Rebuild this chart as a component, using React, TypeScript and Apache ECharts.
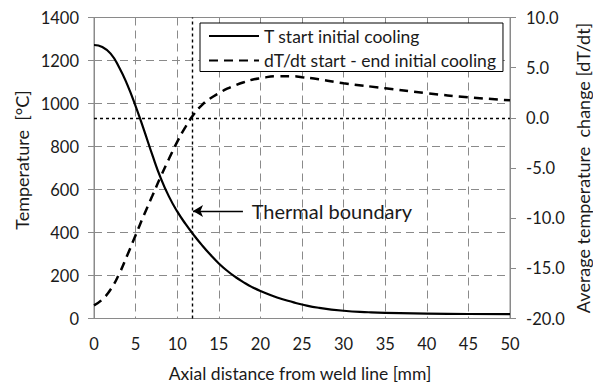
import React, { useEffect, useRef } from "react";
import * as echarts from "echarts";

// Solid curve: temperature at start of initial cooling
const tDistance = [0, 1, 2, 3, 4, 5, 6, 7, 8, 9, 10, 11, 12, 13, 14, 15, 16, 17, 18, 19, 20, 22, 24, 25, 27, 30, 33, 35, 40, 45, 50];
const temperature = [1272, 1263, 1232, 1170, 1088, 988, 877, 762, 655, 568, 498, 440, 388, 340, 296, 256, 222, 193, 168, 146, 128, 98, 75, 65, 50, 36, 29, 26, 23, 21, 20];

// Dashed curve: average temperature change dT/dt
const dDistance = [0, 1, 2, 3, 4, 5, 6, 7, 8, 9, 10, 11, 12, 13, 14, 15, 16, 17, 18, 19, 20, 22, 24, 25, 27, 30, 35, 40, 45, 50];
const dTdt = [-18.7, -18.1, -17.1, -15.6, -13.7, -11.7, -9.7, -7.8, -5.9, -4.1, -2.4, -0.9, 0.35, 1.3, 1.95, 2.45, 2.9, 3.25, 3.55, 3.8, 3.95, 4.15, 4.15, 4.05, 3.85, 3.45, 2.95, 2.45, 2.05, 1.75];

const seriesNames = ["T start initial cooling", "dT/dt start - end initial cooling"];
const thermalBoundary = 11.8;
const annotationText = "Thermal boundary";
const annotationLevel = 500;
const arrowStartX = 17.9;
const annotationTextX = 18.95;

const FONT = "Lato";
const TXT = "#1a1a1a";
const GRID = "#8a8a8a";

export default function App() {
  const ref = useRef<HTMLDivElement>(null);
  useEffect(() => {
    if (!ref.current) return;
    const chart = echarts.init(ref.current, null, { renderer: "svg" });
    chart.setOption({
      animation: false,
      backgroundColor: "#ffffff",
      textStyle: { fontFamily: FONT },
      grid: {
        left: 94,
        right: 83,
        top: 17.5,
        bottom: 64.5,
        show: true,
        borderColor: GRID,
        borderWidth: 1,
        containLabel: false,
        outerBoundsMode: "none",
      },
      legend: {
        orient: "vertical",
        left: 200,
        top: 23,
        padding: [4, 7, 2, 8],
        backgroundColor: "#ffffff",
        borderColor: "#000000",
        borderWidth: 1,
        itemWidth: 50,
        itemHeight: 10,
        itemGap: 6.5,
        itemStyle: { color: "rgba(0,0,0,0)", borderWidth: 0, opacity: 0 },
        textStyle: { fontFamily: FONT, fontSize: 17.5, color: TXT, lineHeight: 16 },
        data: seriesNames,
      },
      xAxis: {
        type: "value",
        min: 0,
        max: 50,
        interval: 5,
        axisLine: { show: true, lineStyle: { color: GRID, width: 1 } },
        axisTick: { show: false },
        axisLabel: { color: TXT, fontSize: 16.5, fontFamily: FONT, margin: 17 },
        splitLine: { show: true, lineStyle: { color: GRID, type: [8, 5], width: 1 } },
      },
      yAxis: [
        {
          type: "value",
          min: 0,
          max: 1400,
          interval: 200,
          axisLine: { show: true, lineStyle: { color: GRID, width: 1 } },
          axisTick: { show: true, inside: false, length: 6, lineStyle: { color: GRID } },
          axisLabel: {
            color: TXT,
            fontSize: 16.5,
            fontFamily: FONT,
            margin: 15,
            formatter: (v: number) => String(v),
          },
          splitLine: { show: true, lineStyle: { color: GRID, type: [8, 5], width: 1 } },
        },
        {
          type: "value",
          min: -20,
          max: 10,
          interval: 5,
          position: "right",
          axisLine: { show: true, lineStyle: { color: GRID, width: 1 } },
          axisTick: { show: true, inside: false, length: 6, lineStyle: { color: GRID } },
          axisLabel: {
            color: TXT,
            fontSize: 16.5,
            fontFamily: FONT,
            margin: 16,
            formatter: (v: number) => v.toFixed(1),
          },
          splitLine: { show: false },
        },
      ],
      series: [
        {
          name: seriesNames[0],
          type: "line",
          yAxisIndex: 0,
          data: tDistance.map((x, i) => [x, temperature[i]]),
          symbol: "none",
          smooth: 0.5,
          lineStyle: { color: "#000000", width: 2.2, type: "solid" },
          itemStyle: { color: "#000000" },
          z: 5,
          markLine: {
            silent: true,
            symbol: ["none", "none"],
            label: { show: false },
            lineStyle: { color: "#000000", type: [3, 3], width: 1.4 },
            data: [
              { xAxis: thermalBoundary },
              [
                { coord: [arrowStartX, annotationLevel], symbol: "none" },
                {
                  coord: [thermalBoundary + 0.1, annotationLevel],
                  symbol: "arrow",
                  symbolSize: [9, 10],
                  lineStyle: { type: "solid", width: 1.3, color: "#000000" },
                },
              ],
            ],
          },
          markPoint: {
            silent: true,
            data: [
              {
                coord: [annotationTextX, annotationLevel],
                symbol: "circle",
                symbolSize: 0,
                itemStyle: { color: "rgba(0,0,0,0)" },
                label: {
                  show: true,
                  position: "right",
                  distance: 0,
                  formatter: annotationText,
                  color: TXT,
                  fontSize: 20,
                  fontFamily: FONT,
                },
              },
            ],
          },
        },
        {
          name: seriesNames[1],
          type: "line",
          yAxisIndex: 1,
          data: dDistance.map((x, i) => [x, dTdt[i]]),
          symbol: "none",
          smooth: 0.5,
          lineStyle: { color: "#000000", width: 2.5, type: [9, 6] },
          itemStyle: { color: "#000000" },
          z: 4,
          markLine: {
            silent: true,
            symbol: ["none", "none"],
            label: { show: false },
            lineStyle: { color: "#000000", type: [3, 3], width: 1.3 },
            data: [{ yAxis: 0 }],
          },
        },
      ],
      graphic: [
        {
          type: "text",
          x: 22,
          y: 160,
          rotation: Math.PI / 2,
          style: {
            text: "Temperature  [°C]",
            fontFamily: FONT,
            fontSize: 18,
            fill: TXT,
            align: "center",
            verticalAlign: "middle",
          },
        },
        {
          type: "text",
          x: 583,
          y: 168,
          rotation: Math.PI / 2,
          style: {
            text: "Average temperature  change [dT/dt]",
            fontFamily: FONT,
            fontSize: 18,
            fill: TXT,
            align: "center",
            verticalAlign: "middle",
          },
        },
        {
          type: "text",
          x: 300,
          y: 373,
          style: {
            text: "Axial distance from weld line [mm]",
            fontFamily: FONT,
            fontSize: 17.5,
            fill: TXT,
            align: "center",
            verticalAlign: "middle",
          },
        },
      ],
    });
    return () => chart.dispose();
  }, []);
  return (
    <div
      ref={ref}
      style={{ position: "fixed", left: 0, top: 0, width: 593, height: 383, background: "#fff" }}
    />
  );
}
